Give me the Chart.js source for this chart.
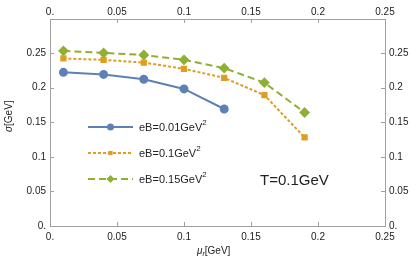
<!DOCTYPE html>
<html>
<head>
<meta charset="utf-8">
<script src="https://cdn.jsdelivr.net/npm/chart.js@4/dist/chart.umd.min.js"></script>
<style>
  html, body { margin: 0; padding: 0; background: #fff; }
  #wrap { width: 415px; height: 268px; position: relative; }
</style>
</head>
<body>
<div id="wrap"><canvas id="cjs"></canvas></div>
<script>
// chemical potential mu_r [GeV]
const muR = [0.01, 0.04, 0.07, 0.1, 0.13, 0.16, 0.19];
// sigma [GeV] for each eB
const eB001 = [0.222, 0.219, 0.212, 0.198, 0.169];
const eB01 = [0.242, 0.240, 0.236, 0.227, 0.214, 0.189, 0.128];
const eB015 = [0.253, 0.250, 0.247, 0.240, 0.228, 0.207, 0.164];
const seriesNames = ['eB=0.01GeV', 'eB=0.1GeV', 'eB=0.15GeV'];
const xTicks = [0, 0.05, 0.1, 0.15, 0.2, 0.25];
const yTicks = [0, 0.05, 0.1, 0.15, 0.2, 0.25];

const FONT = '"Liberation Sans", Arial, sans-serif';
const frameCol = '#a0a0a0';

function pts(vals){
    return vals.map((v, i) => ({x: muR[i], y: v}));
}
function fmt(v){
    if (Math.abs(v) < 1e-9) return '0.';
    return String(+v.toFixed(3));
}

const blue = {
    label: seriesNames[0],
    data: pts(eB001),
    borderColor: '#5e81b5', backgroundColor: '#5e81b5',
    borderWidth: 2, pointStyle: 'circle', pointRadius: 3.5,
};
const orange = {
    label: seriesNames[1],
    data: pts(eB01),
    borderColor: '#e19c24', backgroundColor: '#e19c24',
    borderWidth: 2, borderDash: [3, 2], pointStyle: 'rect', pointRadius: 3,
};
const green = {
    label: seriesNames[2],
    data: pts(eB015),
    borderColor: '#8fb032', backgroundColor: '#8fb032',
    borderWidth: 2, borderDash: [7, 4], pointStyle: 'rectRot', pointRadius: 4,
};

// fixed box sizes so the frame sits where the picture has it
function fixW(w){ return function(s){ s.width = w; }; }
function fixH(h){ return function(s){ s.height = h; }; }

// frame ticks point inward, plus axis titles, legend and note
const decor = {
    id: 'decor',
    afterDraw(chart){
        const c = chart.ctx, a = chart.chartArea;
        const xs = chart.scales.x, ys = chart.scales.y;
        c.save();
        c.strokeStyle = frameCol;
        c.lineWidth = 1;
        c.beginPath();
        xTicks.forEach(t => {
            const px = Math.round(xs.getPixelForValue(t)) + 0.5;
            c.moveTo(px, a.bottom); c.lineTo(px, a.bottom - 4);
            c.moveTo(px, a.top); c.lineTo(px, a.top + 4);
        });
        yTicks.forEach(t => {
            const py = Math.round(ys.getPixelForValue(t)) + 0.5;
            c.moveTo(a.left, py); c.lineTo(a.left + 4, py);
            c.moveTo(a.right, py); c.lineTo(a.right - 4, py);
        });
        c.stroke();

        c.fillStyle = '#222';
        // x title: mu_r[GeV]
        c.textBaseline = 'alphabetic';
        let x0 = 197, y0 = 254;
        c.font = 'italic 10px ' + FONT;
        c.fillText('\u03bc', x0, y0);
        let w = c.measureText('\u03bc').width;
        c.font = 'italic 7px ' + FONT;
        c.fillText('r', x0 + w, y0 + 2);
        w += c.measureText('r').width;
        c.font = '10px ' + FONT;
        c.fillText('[GeV]', x0 + w, y0);

        // y title: sigma[GeV], rotated
        c.save();
        c.translate(12, 132);
        c.rotate(-Math.PI / 2);
        c.font = 'italic 10px ' + FONT;
        c.fillText('\u03c3', 0, 0);
        w = c.measureText('\u03c3').width;
        c.font = '10px ' + FONT;
        c.fillText('[GeV]', w, 0);
        c.restore();

        // legend
        const rows = [blue, orange, green];
        rows.forEach((ds, i) => {
            const ly = 127 + i * 26;
            c.strokeStyle = ds.borderColor;
            c.lineWidth = 2;
            c.setLineDash(ds.borderDash || []);
            c.beginPath(); c.moveTo(88, ly); c.lineTo(133, ly); c.stroke();
            c.setLineDash([]);
            c.fillStyle = ds.backgroundColor;
            Chart.helpers.drawPoint(c, {pointStyle: ds.pointStyle, radius: ds.pointRadius, rotation: 0, borderWidth: 0}, 110.5, ly);
            c.fillStyle = '#222';
            c.font = '11px ' + FONT;
            c.textBaseline = 'middle';
            c.fillText(ds.label, 139, ly + 1);
            const tw = c.measureText(ds.label).width;
            c.font = '8px ' + FONT;
            c.fillText('2', 139 + tw, ly - 4);
        });

        // temperature note
        c.font = '15px ' + FONT;
        c.textBaseline = 'alphabetic';
        c.fillText('T=0.1GeV', 260, 185);
        c.restore();
    }
};

const tickFont = {family: FONT, size: 10};
function axisX(pos){
    return {
        type: 'linear', position: pos, min: 0, max: 0.25,
        afterBuildTicks: s => { s.ticks = xTicks.map(v => ({value: v})); },
        afterFit: fixH(pos === 'top' ? 19 : 42),
        border: {display: true, color: frameCol},
        grid: {display: false, drawTicks: false},
        ticks: {color: '#222', font: tickFont, padding: pos === 'top' ? 1 : 5, callback: v => fmt(v), maxRotation: 0},
    };
}
function axisY(pos){
    return {
        type: 'linear', position: pos, min: 0, max: 0.299,
        afterBuildTicks: s => { s.ticks = yTicks.map(v => ({value: v})); },
        afterFit: fixW(pos === 'left' ? 50 : 30),
        border: {display: true, color: frameCol},
        grid: {display: false, drawTicks: false},
        ticks: {color: '#222', font: tickFont, padding: 4, callback: v => fmt(v)},
    };
}

const config = {
    type: 'line',
    data: {datasets: [blue, orange, green]},
    options: {
        responsive: false,
        animation: false,
        layout: {padding: 0},
        plugins: {legend: {display: false}, tooltip: {enabled: false}},
        scales: {
            x: axisX('bottom'),
            x2: axisX('top'),
            y: axisY('left'),
            y2: axisY('right'),
        }
    },
    plugins: [decor]
};

const cv = document.getElementById('cjs');
cv.width = 415; cv.height = 268;
cv.style.width = '415px'; cv.style.height = '268px';
const myChart = new Chart(cv, config);
</script>
</body>
</html>
